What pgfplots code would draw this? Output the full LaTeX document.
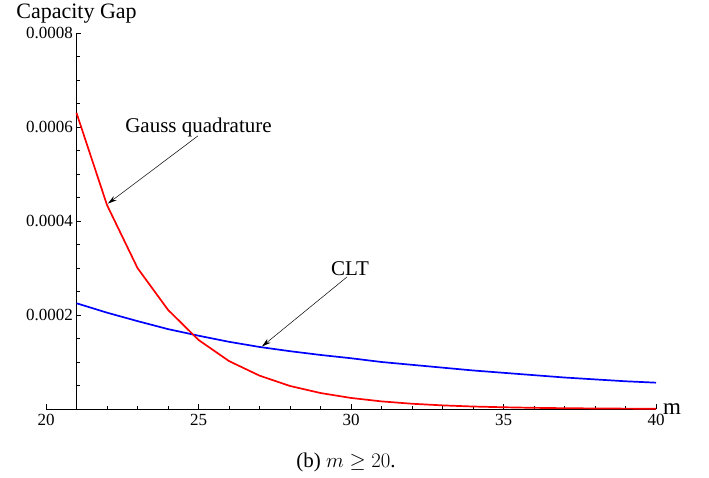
\documentclass[border=0pt]{standalone}
\usepackage{fontspec}
\setmainfont{Liberation Serif}
\usepackage{pgfplots}
\pgfplotsset{compat=1.18}
\usetikzlibrary{arrows.meta}

\pgfplotstableread{
m gap
21 0.000630
22 0.000434
23 0.000300
24 0.000211
25 0.000147
26 0.000102
27 0.000071
28 0.000049
29 0.000034
30 0.0000235
31 0.0000162
32 0.0000112
33 0.0000077
34 0.0000053
35 0.0000037
36 0.0000025
37 0.0000017
38 0.0000012
39 0.0000008
40 0.0000006
}\gausstable

\pgfplotstableread{
m gap
21 0.000225
22 0.000205
23 0.000187
24 0.000170
25 0.000156
26 0.000143
27 0.000132
28 0.000123
29 0.000115
30 0.000108
31 0.000100
32 0.000094
33 0.000088
34 0.000082
35 0.000077
36 0.000072
37 0.000067
38 0.000063
39 0.000059
40 0.000056
}\clttable

\begin{document}
\begin{tikzpicture}
\path[use as bounding box] (-46pt,-68pt) rectangle (663pt,409pt);
% x axis (starts at 20)
\begin{axis}[
  at={(0pt,0pt)}, anchor=south west,
  scale only axis, width=610pt, height=376pt,
  xmin=20, xmax=40, ymin=0, ymax=0.0008,
  axis x line*=bottom, axis y line=none, ytick=\empty,
  xtick={20,25,30,35,40},
  minor xtick={21,22,23,24,26,27,28,29,31,32,33,34,36,37,38,39},
  tick align=inside,
  major tick length=5pt, minor tick length=3.5pt,
  tick style={black, line width=0.6pt},
  axis line style={black, line width=0.7pt},
  /pgf/number format/assume math mode=true,
  x tick label style={font=\fontsize{17}{20}\selectfont, yshift=-2pt},
  xlabel={m},
  xlabel style={at={(rel axis cs:1,0)}, anchor=west, font=\fontsize{23}{26}\selectfont, inner sep=2pt, xshift=5pt},
]
\addplot[draw=none] coordinates {(20,0) (40,0)};
\end{axis}
% data axis with y axis at m = 21
\begin{axis}[
  at={(30.5pt,0pt)}, anchor=south west,
  scale only axis, width=579.5pt, height=376pt,
  xmin=21, xmax=40, ymin=0, ymax=0.0008,
  axis y line*=left, axis x line=none, xtick=\empty,
  ytick={0.0002,0.0004,0.0006,0.0008},
  minor ytick={0.00005,0.0001,0.00015,0.00025,0.0003,0.00035,0.00045,0.0005,0.00055,0.00065,0.0007,0.00075},
  scaled y ticks=false,
  tick align=inside,
  major tick length=5pt, minor tick length=3.5pt,
  tick style={black, line width=0.6pt},
  axis line style={black, line width=0.7pt},
  /pgf/number format/assume math mode=true,
  y tick label style={font=\fontsize{17}{20}\selectfont,
    /pgf/number format/fixed, /pgf/number format/fixed zerofill,
    /pgf/number format/precision=4},
  ylabel={Capacity Gap},
  ylabel style={at={(rel axis cs:0,1)}, rotate=-90, anchor=base, yshift=15pt, font=\fontsize{22}{26}\selectfont},
  clip=false,
]
\addplot[blue, line width=1.7pt] table[x=m, y=gap] {\clttable};
\addplot[red, line width=1.7pt] table[x=m, y=gap] {\gausstable};
\node[font=\fontsize{21}{25}\selectfont] at (axis cs:25.0,0.000598) {Gauss quadrature};
\draw[-{Stealth[length=9pt,width=5pt]}, line width=0.5pt] (axis cs:24.98,0.000581) -- (axis cs:22.03,0.000437);
\node[font=\fontsize{21}{25}\selectfont] at (axis cs:29.97,0.000299) {CLT};
\draw[-{Stealth[length=9pt,width=5pt]}, line width=0.5pt] (axis cs:29.87,0.000281) -- (axis cs:27.08,0.000133);
\end{axis}
\node[font=\fontsize{21}{25}\selectfont] at (300pt,-53pt) {(b) $m \geq 20$.};
\end{tikzpicture}
\end{document}
